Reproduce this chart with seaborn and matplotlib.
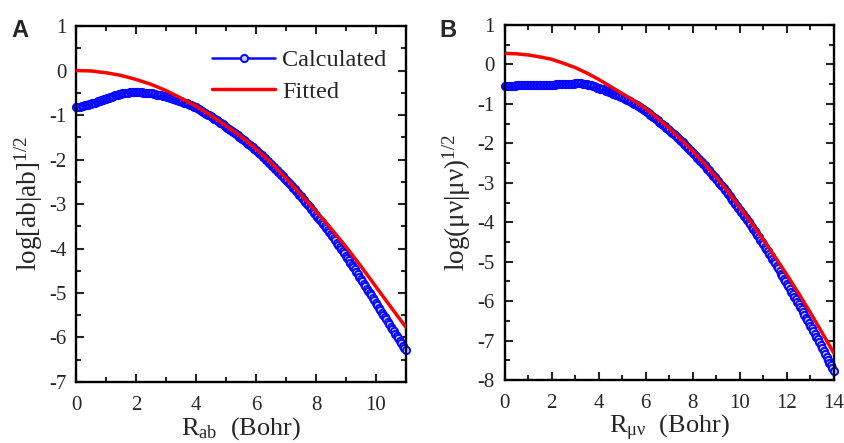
import numpy as np
import pandas as pd
import matplotlib
matplotlib.use("Agg")
import matplotlib.pyplot as plt
from matplotlib.ticker import MultipleLocator
import seaborn as sns

# Panel A: calculated points, R_ab from 0 in steps of 0.05 Bohr
STEP_A = 0.05
calc_a = [
    -0.83, -0.825, -0.82, -0.81, -0.80, -0.79, -0.78, -0.775, -0.77, -0.76,
    -0.75, -0.74, -0.73, -0.72, -0.71, -0.695, -0.68, -0.67, -0.66, -0.65,
    -0.64, -0.625, -0.61, -0.60, -0.59, -0.575, -0.56, -0.55, -0.54, -0.53,
    -0.52, -0.515, -0.51, -0.505, -0.50, -0.495, -0.49, -0.49, -0.49, -0.49,
    -0.49, -0.49, -0.49, -0.49, -0.49, -0.495, -0.50, -0.50, -0.50, -0.505,
    -0.51, -0.515, -0.52, -0.53, -0.54, -0.545, -0.55, -0.56, -0.57, -0.575,
    -0.58, -0.59, -0.60, -0.61, -0.62, -0.63, -0.64, -0.655, -0.67, -0.68,
    -0.69, -0.705, -0.72, -0.73, -0.74, -0.755, -0.77, -0.785, -0.80, -0.815,
    -0.83, -0.85, -0.87, -0.89, -0.91, -0.93, -0.95, -0.97, -0.99, -1.01,
    -1.03, -1.055, -1.08, -1.10, -1.12, -1.145, -1.17, -1.19, -1.21, -1.235,
    -1.26, -1.285, -1.31, -1.335, -1.36, -1.385, -1.41, -1.435, -1.46, -1.485,
    -1.51, -1.54, -1.57, -1.595, -1.62, -1.65, -1.68, -1.705, -1.73, -1.76,
    -1.79, -1.82, -1.85, -1.88, -1.91, -1.94, -1.97, -2.005, -2.04, -2.07,
    -2.10, -2.135, -2.17, -2.205, -2.24, -2.275, -2.31, -2.345, -2.38, -2.415,
    -2.45, -2.485, -2.52, -2.56, -2.60, -2.635, -2.67, -2.71, -2.75, -2.79,
    -2.83, -2.87, -2.91, -2.95, -2.99, -3.03, -3.07, -3.115, -3.16, -3.20,
    -3.24, -3.285, -3.33, -3.37, -3.41, -3.455, -3.50, -3.545, -3.59, -3.635,
    -3.68, -3.725, -3.77, -3.82, -3.87, -3.915, -3.96, -4.01, -4.06, -4.11,
    -4.16, -4.21, -4.26, -4.315, -4.37, -4.42, -4.47, -4.525, -4.58, -4.63,
    -4.68, -4.735, -4.79, -4.845, -4.90, -4.95, -5.00, -5.055, -5.11, -5.165,
    -5.22, -5.275, -5.33, -5.385, -5.44, -5.49, -5.54, -5.595, -5.65, -5.705,
    -5.76, -5.81, -5.86, -5.915, -5.97, -6.02, -6.07, -6.125, -6.18, -6.23,
    -6.28]
fit_a_x = [0, 0.5, 1, 1.5, 2, 2.5, 3, 3.5, 4, 4.5, 5, 5.5, 6, 6.5, 7, 7.5,
           8, 8.5, 9, 9.5, 10, 10.5, 11]
fit_a = [0.0, -0.01, -0.05, -0.11, -0.20, -0.31, -0.45, -0.62, -0.80, -1.01,
         -1.24, -1.48, -1.76, -2.07, -2.42, -2.79, -3.16, -3.55, -3.96, -4.40,
         -4.86, -5.32, -5.77]

# Panel B: calculated points, R_uv from 0 in steps of 0.0625 Bohr
STEP_B = 0.0625
calc_b = [
    -0.54, -0.54, -0.54, -0.54, -0.54, -0.54, -0.54, -0.535,
    -0.53, -0.53, -0.53, -0.53, -0.53, -0.53, -0.53, -0.53,
    -0.53, -0.525, -0.52, -0.52, -0.52, -0.52, -0.52, -0.52,
    -0.52, -0.52, -0.52, -0.515, -0.51, -0.51, -0.51, -0.51,
    -0.51, -0.51, -0.51, -0.505, -0.50, -0.50, -0.50, -0.50,
    -0.50, -0.495, -0.49, -0.49, -0.49, -0.49, -0.49, -0.485,
    -0.48, -0.48, -0.48, -0.48, -0.48, -0.485, -0.49, -0.495,
    -0.50, -0.51, -0.52, -0.53, -0.54, -0.555, -0.57, -0.585,
    -0.60, -0.61, -0.62, -0.635, -0.65, -0.665, -0.68, -0.695,
    -0.71, -0.725, -0.74, -0.755, -0.77, -0.785, -0.80, -0.815,
    -0.83, -0.85, -0.87, -0.89, -0.91, -0.93, -0.95, -0.97,
    -0.99, -1.015, -1.04, -1.065, -1.09, -1.115, -1.14, -1.165,
    -1.19, -1.215, -1.24, -1.27, -1.30, -1.33, -1.36, -1.39,
    -1.42, -1.45, -1.48, -1.51, -1.54, -1.57, -1.60, -1.635,
    -1.67, -1.70, -1.73, -1.765, -1.80, -1.835, -1.87, -1.905,
    -1.94, -1.975, -2.01, -2.045, -2.08, -2.12, -2.16, -2.20,
    -2.24, -2.28, -2.32, -2.36, -2.40, -2.44, -2.48, -2.52,
    -2.56, -2.60, -2.64, -2.685, -2.73, -2.775, -2.82, -2.865,
    -2.91, -2.955, -3.00, -3.045, -3.09, -3.135, -3.18, -3.23,
    -3.28, -3.33, -3.38, -3.43, -3.48, -3.53, -3.58, -3.63,
    -3.68, -3.73, -3.78, -3.835, -3.89, -3.945, -4.00, -4.055,
    -4.11, -4.165, -4.22, -4.275, -4.33, -4.385, -4.44, -4.50,
    -4.56, -4.62, -4.68, -4.74, -4.80, -4.86, -4.92, -4.98,
    -5.04, -5.105, -5.17, -5.235, -5.30, -5.365, -5.43, -5.495,
    -5.56, -5.625, -5.69, -5.755, -5.82, -5.885, -5.95, -6.015,
    -6.08, -6.145, -6.21, -6.28, -6.35, -6.415, -6.48, -6.55,
    -6.62, -6.69, -6.76, -6.83, -6.90, -6.97, -7.04, -7.11,
    -7.18, -7.255, -7.33, -7.405, -7.48, -7.555, -7.63, -7.705,
    -7.78]
fit_b_x = [0, 0.5, 1, 1.5, 2, 2.5, 3, 3.5, 4, 4.5, 5, 5.5, 6, 6.5, 7, 7.5,
           8, 8.5, 9, 9.5, 10, 10.5, 11, 11.5, 12, 12.5, 13, 13.5, 14]
fit_b = [0.28, 0.27, 0.24, 0.19, 0.13, 0.03, -0.08, -0.22, -0.38, -0.56,
         -0.74, -0.92, -1.12, -1.36, -1.62, -1.90, -2.20, -2.52, -2.86, -3.22,
         -3.62, -4.02, -4.44, -4.88, -5.33, -5.80, -6.29, -6.80, -7.32]

sns.set_style("ticks")
plt.rcParams["font.family"] = ["Liberation Serif", "DejaVu Serif"]
plt.rcParams["mathtext.fontset"] = "custom"
plt.rcParams["mathtext.rm"] = "Liberation Serif"
plt.rcParams["mathtext.it"] = "Liberation Serif:italic"
plt.rcParams["axes.unicode_minus"] = False

BLUE = "#0808ff"
RED = "#ff0000"

fig = plt.figure(figsize=(8.44, 4.43), dpi=100)
ax_a = fig.add_axes([0.090, 0.1377, 0.391, 0.8036])
ax_b = fig.add_axes([0.598, 0.142, 0.390, 0.8016])


def draw_panel(ax, step, calc, fx, fy, xmax, ymin):
    df_c = pd.DataFrame({"R": np.arange(len(calc)) * step, "v": calc})
    df_f = pd.DataFrame({"R": fx, "v": fy})
    sns.lineplot(data=df_c, x="R", y="v", ax=ax, color=BLUE, lw=1.8,
                 marker="o", markersize=5.2, markeredgewidth=1.4,
                 markeredgecolor=BLUE, markerfacecolor="#c4ccff",
                 label="Calculated", zorder=2, clip_on=False)
    sns.lineplot(data=df_f, x="R", y="v", ax=ax, color=RED, lw=2.5,
                 label="Fitted", zorder=3)
    ax.set_xlim(0, xmax)
    ax.set_ylim(ymin, 1)
    ax.xaxis.set_major_locator(MultipleLocator(2))
    ax.xaxis.set_minor_locator(MultipleLocator(1))
    ax.yaxis.set_major_locator(MultipleLocator(1))
    ax.yaxis.set_minor_locator(MultipleLocator(0.5))
    ax.tick_params(which="both", direction="in", top=True, right=True,
                   width=1.5, labelsize=15)
    ax.tick_params(axis="x", which="major", pad=10)
    ax.tick_params(axis="y", which="major", pad=7)
    ax.tick_params(which="major", length=6)
    ax.tick_params(which="minor", length=3.5)
    for s in ax.spines.values():
        s.set_linewidth(1.7)
        s.set_color("black")


draw_panel(ax_a, STEP_A, calc_a, fit_a_x, fit_a, 11, -7)
draw_panel(ax_b, STEP_B, calc_b, fit_b_x, fit_b, 14, -8)

ax_a.set_xlabel(r"R$_{\mathrm{ab}}$  (Bohr)", fontsize=19, labelpad=0)
ax_a.set_ylabel(r"log[ab|ab]$^{\mathrm{1/2}}$", fontsize=19.5, labelpad=3)
ax_b.set_xlabel(r"R$_{\mathrm{μν}}$  (Bohr)", fontsize=19, labelpad=0)
ax_b.set_ylabel(r"log(μν|μν)$^{\mathrm{1/2}}$", fontsize=19.5, labelpad=3)

ax_a.legend(loc="upper left", bbox_to_anchor=(0.412, 0.935), frameon=False,
            fontsize=17.5, handlelength=2.6, handletextpad=0.3,
            labelspacing=0.4, borderpad=0, borderaxespad=0)
ax_b.get_legend().remove()

fig.text(0.014, 0.957, "A", fontsize=17, fontweight="bold",
         family="Liberation Sans", va="top")
fig.text(0.521, 0.957, "B", fontsize=17, fontweight="bold",
         family="Liberation Sans", va="top")

fig.savefig("out.png", dpi=100)
